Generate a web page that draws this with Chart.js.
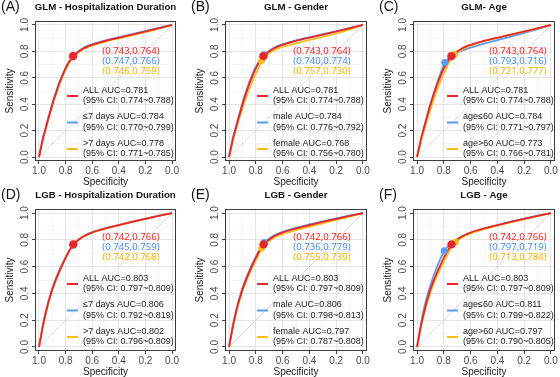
<!DOCTYPE html>
<html><head><meta charset="utf-8">
<script src="https://cdn.jsdelivr.net/npm/chart.js@4.4.0/dist/chart.umd.min.js"></script>
<style>
html,body{margin:0;padding:0;background:#fff;width:560px;height:377px;overflow:hidden;position:relative}
canvas{position:absolute}
</style></head><body>
<script>
// ---------- data ----------
const tickValues = [0, 0.1, 0.2, 0.3, 0.4, 0.5, 0.6, 0.7, 0.8, 0.9, 1.0];
const diagonal = [[1, 0], [0, 1]];

const hospGroups = ['ALL', '\u22647 days', '>7 days'];
const genderGroups = ['ALL', 'male', 'female'];
const ageGroups = ['ALL', 'age\u226460', 'age>60'];

const glmHospAUC = ['0.781', '0.784', '0.778'];
const glmHospCI = ['0.774~0.788', '0.770~0.799', '0.771~0.785'];
const glmGenderAUC = ['0.781', '0.784', '0.768'];
const glmGenderCI = ['0.774~0.788', '0.776~0.792', '0.756~0.780'];
const glmAgeAUC = ['0.781', '0.784', '0.773'];
const glmAgeCI = ['0.774~0.788', '0.771~0.797', '0.766~0.781'];
const lgbHospAUC = ['0.803', '0.806', '0.802'];
const lgbHospCI = ['0.797~0.809', '0.792~0.819', '0.796~0.809'];
const lgbGenderAUC = ['0.803', '0.806', '0.797'];
const lgbGenderCI = ['0.797~0.809', '0.798~0.813', '0.787~0.808'];
const lgbAgeAUC = ['0.803', '0.811', '0.797'];
const lgbAgeCI = ['0.797~0.809', '0.799~0.822', '0.790~0.805'];

// best thresholds (specificity, sensitivity)
const glmHospBest = [[0.743, 0.764], [0.747, 0.766], [0.746, 0.759]];
const glmGenderBest = [[0.743, 0.764], [0.740, 0.774], [0.757, 0.730]];
const glmAgeBest = [[0.743, 0.764], [0.793, 0.716], [0.721, 0.777]];
const lgbHospBest = [[0.742, 0.766], [0.745, 0.759], [0.742, 0.768]];
const lgbGenderBest = [[0.742, 0.766], [0.736, 0.779], [0.755, 0.739]];
const lgbAgeBest = [[0.742, 0.766], [0.797, 0.719], [0.713, 0.784]];

// ROC curves (specificity, sensitivity)
const glmAll = [[1,0],[0.97,0.14],[0.93,0.29],[0.89,0.43],[0.85,0.55],[0.81,0.65],[0.78,0.71],[0.743,0.764],[0.70,0.80],[0.66,0.825],[0.62,0.843],[0.56,0.862],[0.5,0.88],[0.44,0.895],[0.38,0.908],[0.3,0.927],[0.22,0.946],[0.15,0.962],[0.08,0.98],[0,1]];
const glmHospShort = [[1,0],[0.97,0.15],[0.93,0.30],[0.89,0.44],[0.85,0.56],[0.81,0.655],[0.78,0.715],[0.747,0.766],[0.70,0.805],[0.66,0.83],[0.62,0.848],[0.56,0.867],[0.5,0.884],[0.44,0.899],[0.38,0.912],[0.3,0.93],[0.22,0.95],[0.15,0.966],[0.08,0.982],[0,1]];
const glmHospLong = [[1,0],[0.97,0.135],[0.93,0.28],[0.89,0.42],[0.85,0.54],[0.81,0.64],[0.78,0.70],[0.746,0.759],[0.70,0.795],[0.66,0.82],[0.62,0.838],[0.56,0.857],[0.5,0.874],[0.44,0.89],[0.38,0.903],[0.3,0.922],[0.22,0.942],[0.15,0.958],[0.08,0.977],[0,1]];
const glmMale = [[1,0],[0.97,0.15],[0.93,0.30],[0.89,0.445],[0.85,0.565],[0.81,0.665],[0.775,0.725],[0.74,0.774],[0.70,0.805],[0.66,0.83],[0.62,0.848],[0.56,0.867],[0.5,0.884],[0.44,0.898],[0.38,0.911],[0.3,0.93],[0.22,0.948],[0.15,0.964],[0.08,0.981],[0,1]];
const glmFemale = [[1,0],[0.97,0.13],[0.93,0.27],[0.89,0.40],[0.85,0.51],[0.81,0.61],[0.78,0.67],[0.757,0.73],[0.72,0.77],[0.68,0.80],[0.64,0.82],[0.58,0.84],[0.5,0.86],[0.44,0.875],[0.38,0.89],[0.3,0.91],[0.22,0.93],[0.15,0.95],[0.08,0.972],[0,1]];
const glmYoung = [[1,0],[0.97,0.12],[0.94,0.25],[0.91,0.37],[0.87,0.50],[0.83,0.62],[0.793,0.716],[0.76,0.752],[0.72,0.78],[0.68,0.80],[0.6,0.828],[0.5,0.858],[0.4,0.885],[0.3,0.912],[0.2,0.94],[0.1,0.968],[0,1]];
const glmOld = [[1,0],[0.97,0.12],[0.93,0.26],[0.89,0.39],[0.85,0.51],[0.81,0.61],[0.77,0.70],[0.721,0.777],[0.68,0.806],[0.62,0.836],[0.56,0.858],[0.5,0.877],[0.4,0.902],[0.3,0.927],[0.2,0.95],[0.1,0.975],[0,1]];

const lgbAll = [[1,0],[0.985,0.08],[0.97,0.16],[0.95,0.25],[0.93,0.33],[0.9,0.43],[0.87,0.51],[0.84,0.58],[0.81,0.645],[0.78,0.705],[0.742,0.766],[0.71,0.795],[0.67,0.823],[0.63,0.843],[0.58,0.862],[0.5,0.885],[0.4,0.91],[0.3,0.934],[0.2,0.957],[0.1,0.979],[0,1]];
const lgbHospShort = [[1,0],[0.985,0.085],[0.97,0.17],[0.95,0.26],[0.93,0.34],[0.9,0.44],[0.87,0.52],[0.84,0.59],[0.81,0.65],[0.78,0.705],[0.745,0.759],[0.71,0.795],[0.67,0.825],[0.63,0.846],[0.58,0.865],[0.5,0.888],[0.4,0.912],[0.3,0.936],[0.2,0.958],[0.1,0.98],[0,1]];
const lgbHospLong = [[1,0],[0.985,0.078],[0.97,0.157],[0.95,0.247],[0.93,0.327],[0.9,0.427],[0.87,0.507],[0.84,0.577],[0.81,0.643],[0.78,0.705],[0.742,0.768],[0.71,0.795],[0.67,0.822],[0.63,0.842],[0.58,0.861],[0.5,0.884],[0.4,0.909],[0.3,0.933],[0.2,0.956],[0.1,0.978],[0,1]];
const lgbMale = [[1,0],[0.985,0.085],[0.97,0.17],[0.95,0.26],[0.93,0.34],[0.9,0.44],[0.87,0.52],[0.84,0.59],[0.81,0.655],[0.775,0.72],[0.736,0.779],[0.70,0.81],[0.66,0.835],[0.62,0.852],[0.57,0.87],[0.5,0.89],[0.4,0.915],[0.3,0.938],[0.2,0.96],[0.1,0.98],[0,1]];
const lgbFemale = [[1,0],[0.985,0.075],[0.97,0.15],[0.95,0.24],[0.93,0.32],[0.9,0.415],[0.87,0.495],[0.84,0.565],[0.81,0.625],[0.785,0.675],[0.755,0.739],[0.72,0.775],[0.68,0.805],[0.64,0.828],[0.59,0.846],[0.5,0.872],[0.4,0.898],[0.3,0.923],[0.2,0.948],[0.1,0.973],[0,1]];
const lgbYoung = [[1,0],[0.985,0.09],[0.97,0.18],[0.95,0.28],[0.93,0.36],[0.91,0.43],[0.88,0.52],[0.85,0.6],[0.82,0.67],[0.797,0.719],[0.77,0.75],[0.73,0.785],[0.69,0.812],[0.64,0.836],[0.58,0.858],[0.5,0.882],[0.4,0.91],[0.3,0.935],[0.2,0.958],[0.1,0.98],[0,1]];
const lgbOld = [[1,0],[0.985,0.075],[0.97,0.15],[0.95,0.235],[0.93,0.31],[0.9,0.405],[0.87,0.485],[0.84,0.555],[0.81,0.615],[0.78,0.675],[0.75,0.73],[0.713,0.784],[0.68,0.808],[0.64,0.83],[0.58,0.855],[0.5,0.88],[0.4,0.906],[0.3,0.931],[0.2,0.955],[0.1,0.977],[0,1]];

const panelLabels = ['(A)', '(B)', '(C)', '(D)', '(E)', '(F)'];
const panelTitles = ['GLM - Hospitalization Duration', 'GLM - Gender', 'GLM- Age',
                     'LGB - Hospitalization Duration', 'LGB - Gender', 'LGB - Age'];

// ---------- styling / layout ----------
const lineColors = ['#e8262b', '#5b9cf2', '#fbbd1e'];
const textColors = ['#ff2222', '#4a8df2', '#f7b500'];
const panelBoxes = [[35,21,176,161],[225,21,367,161],[413,21,555,161],
                    [35,209,176,351],[225,209,367,351],[413,209,555,351]];
const FONT = '"Liberation Sans", Arial, sans-serif';
Chart.defaults.font.family = FONT;

const panels = [
  {groups: hospGroups, auc: glmHospAUC, ci: glmHospCI, best: glmHospBest, curves: [glmAll, glmHospShort, glmHospLong]},
  {groups: genderGroups, auc: glmGenderAUC, ci: glmGenderCI, best: glmGenderBest, curves: [glmAll, glmMale, glmFemale]},
  {groups: ageGroups, auc: glmAgeAUC, ci: glmAgeCI, best: glmAgeBest, curves: [glmAll, glmYoung, glmOld]},
  {groups: hospGroups, auc: lgbHospAUC, ci: lgbHospCI, best: lgbHospBest, curves: [lgbAll, lgbHospShort, lgbHospLong]},
  {groups: genderGroups, auc: lgbGenderAUC, ci: lgbGenderCI, best: lgbGenderBest, curves: [lgbAll, lgbMale, lgbFemale]},
  {groups: ageGroups, auc: lgbAgeAUC, ci: lgbAgeCI, best: lgbAgeBest, curves: [lgbAll, lgbYoung, lgbOld]}
];

const toPts = arr => arr.map(([x, y]) => ({x, y}));
const isMajor = v => Math.round(v * 10) % 2 === 0;

function decor(p, i) {
  const col = i % 3, row = Math.floor(i / 3);
  return {
    id: 'decor' + i,
    afterDraw(chart) {
      const {ctx, chartArea: a} = chart;
      ctx.save();
      // panel box
      ctx.strokeStyle = '#3c3c3c';
      ctx.lineWidth = 1;
      ctx.strokeRect(Math.round(a.left) + 0.5, Math.round(a.top) + 0.5,
                     Math.round(a.right - a.left) - 1, Math.round(a.bottom - a.top) - 1);
      // title
      ctx.fillStyle = '#111';
      ctx.textBaseline = 'middle';
      ctx.textAlign = 'center';
      ctx.font = 'bold 9.7px ' + FONT;
      ctx.fillText(panelTitles[i], (a.left + a.right) / 2, a.top - 13.5);
      // panel label
      ctx.textAlign = 'left';
      ctx.font = '14px ' + FONT;
      ctx.fillText(panelLabels[i], a.left - 34, a.top - 14);
      // best-threshold coordinates
      const cxr = a.right - (col === 2 ? 37 : 45);
      const cy0 = a.top + (row === 0 ? 30 : 28);
      ctx.textAlign = 'center';
      ctx.font = '9.6px "Noto Sans", sans-serif';
      p.best.forEach((b, k) => {
        ctx.fillStyle = textColors[k];
        ctx.fillText('(' + b[0].toFixed(3) + ',' + b[1].toFixed(3) + ')', cxr, cy0 + k * 10);
      });
      // legend
      const lx = a.left + (col === 2 ? 34 : 32);
      ctx.textAlign = 'left';
      ctx.font = '9px ' + FONT;
      p.groups.forEach((g, k) => {
        const ly = a.top + 75 + k * 26.5;
        ctx.strokeStyle = lineColors[k];
        ctx.lineWidth = 2;
        ctx.beginPath();
        ctx.moveTo(lx, ly); ctx.lineTo(lx + 11, ly);
        ctx.stroke();
        ctx.fillStyle = '#222';
        ctx.fillText(g + ' AUC=' + p.auc[k], lx + 16, ly - 5.5);
        ctx.fillText('(95% CI: ' + p.ci[k] + ')', lx + 16, ly + 5);
      });
      ctx.restore();
    }
  };
}

function axisOpts(title, isY) {
  return {
    type: 'linear',
    min: -0.03, max: 1.03,
    reverse: !isY,
    afterBuildTicks: s => { s.ticks = tickValues.map(v => ({value: v})); },
    afterFit: s => { if (isY) s.width = 35; else s.height = 27; },
    border: {display: false},
    grid: {
      color: c => (c.tick && isMajor(c.tick.value)) ? '#e2e2e2' : '#f0f0f0',
      lineWidth: c => (c.tick && isMajor(c.tick.value)) ? 0.9 : 0.6,
      drawTicks: true,
      tickLength: 3,
      tickColor: c => (c.tick && isMajor(c.tick.value)) ? '#444' : 'rgba(0,0,0,0)',
      tickWidth: 1
    },
    ticks: {
      autoSkip: false,
      padding: isY ? 0 : 1,
      color: '#4a4a4a',
      font: {size: 10, family: FONT},
      minRotation: isY ? 90 : 0,
      maxRotation: isY ? 90 : 0,
      crossAlign: isY ? 'center' : 'near',
      callback: v => isMajor(v) ? v.toFixed(1) : ''
    },
    title: {
      display: true, text: title, color: '#1a1a1a',
      font: {size: 10, family: FONT},
      padding: isY ? {top: 4, bottom: 0} : {top: 0, bottom: 0}
    }
  };
}

panels.forEach((p, i) => {
  const [L, T, R, B] = panelBoxes[i];
  const cx = L - 35, cy = T - 21, cw = (R - L) + 41, ch = (B - T) + 48;
  const cv = document.createElement('canvas');
  cv.width = cw; cv.height = ch;
  cv.style.left = cx + 'px'; cv.style.top = cy + 'px';
  cv.style.width = cw + 'px'; cv.style.height = ch + 'px';
  document.body.appendChild(cv);

  const datasets = [{
    label: 'reference', data: toPts(diagonal), showLine: true,
    borderColor: '#d2d2d2', borderWidth: 0.8, pointRadius: 0, order: 10
  }];
  const lineOrder = [3, 5, 4], dotOrder = [0, 2, 1];
  p.curves.forEach((c, k) => datasets.push({
    label: p.groups[k], data: toPts(c), showLine: true,
    borderColor: lineColors[k], borderWidth: 1.8, pointRadius: 0,
    tension: 0, order: lineOrder[k]
  }));
  p.best.forEach((b, k) => datasets.push({
    label: p.groups[k] + ' threshold', data: toPts([b]), showLine: false,
    pointRadius: k === 0 ? 4.2 : 3.5, pointBackgroundColor: lineColors[k],
    pointBorderWidth: 0, order: dotOrder[k]
  }));

  new Chart(cv, {
    type: 'scatter',
    data: {datasets},
    options: {
      responsive: false, animation: false, devicePixelRatio: 1,
      layout: {padding: {left: 0, top: 21, right: 6, bottom: 0}},
      plugins: {legend: {display: false}, tooltip: {enabled: false}, title: {display: false}},
      scales: {x: axisOpts('Specificity', false), y: axisOpts('Sensitivity', true)}
    },
    plugins: [decor(p, i)]
  });
});
</script>
</body></html>
